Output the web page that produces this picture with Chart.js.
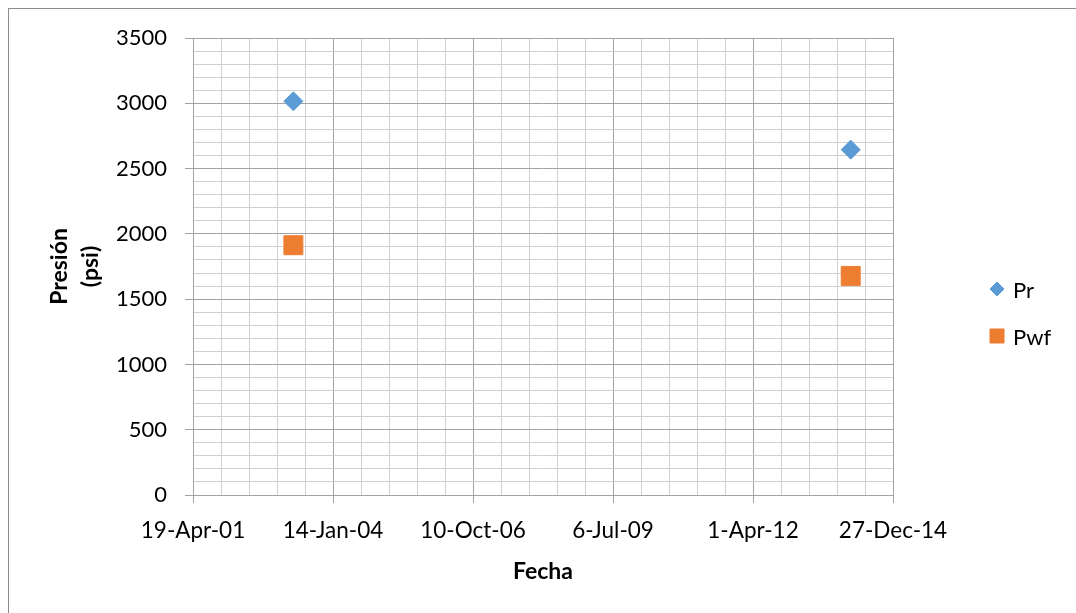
<!DOCTYPE html>
<html>
<head>
<meta charset="utf-8">
<script src="https://cdn.jsdelivr.net/npm/chart.js@4/dist/chart.umd.min.js"></script>
<style>
  html, body { margin: 0; padding: 0; background: #ffffff; }
  #wrap { width: 1076px; height: 613px; }
</style>
</head>
<body>
<div id="wrap"><canvas id="c" width="1076" height="613"></canvas></div>
<script>
// Measurement dates and pressures
const seriesNames = ['Pr', 'Pwf'];
const dates = ['2003-04-06', '2014-02-28'];
const prValues = [3015, 2645];
const pwfValues = [1913, 1678];

// Axis range: date axis in spreadsheet serial days, pressure in psi
const xRangeDates = ['2001-04-19', '2014-12-27'];
const xMajorStep = 1000;
const xMinorStep = 200;
const yMin = 0, yMax = 3500, yMajorStep = 500, yMinorStep = 100;

const MONTHS = ['Jan','Feb','Mar','Apr','May','Jun','Jul','Aug','Sep','Oct','Nov','Dec'];
const EPOCH = Date.UTC(1899, 11, 30);
const DAY = 86400000;

function toSerial(s) {
  const [y, m, d] = s.split('-').map(Number);
  return Math.round((Date.UTC(y, m - 1, d) - EPOCH) / DAY);
}
function fmtSerial(v) {
  const dt = new Date(EPOCH + v * DAY);
  const yy = String(dt.getUTCFullYear() % 100).padStart(2, '0');
  return dt.getUTCDate() + '-' + MONTHS[dt.getUTCMonth()] + '-' + yy;
}

const xMin = toSerial(xRangeDates[0]);
const xMax = toSerial(xRangeDates[1]);

const MAJOR = '#a3a3a3';
const MINOR = '#d0d0d0';
const FONT = 'Lato';
const colors = ['#5b9bd5', '#ed7d31'];
const styles = ['rectRot', 'rect'];

function isMajor(v, step) { return Math.abs(v / step - Math.round(v / step)) < 1e-6; }

// Outer frame and white background
const frame = {
  id: 'frame',
  beforeDraw(chart) {
    const ctx = chart.ctx;
    ctx.save();
    ctx.fillStyle = '#ffffff';
    ctx.fillRect(0, 0, chart.width, chart.height);
    ctx.strokeStyle = '#8c8c8c';
    ctx.lineWidth = 1;
    ctx.strokeRect(8.5, 8.5, chart.width + 20, chart.height + 20);
    ctx.restore();
  }
};

// Legend at the right, using each dataset's own marker style
const sideLegend = {
  id: 'sideLegend',
  afterDraw(chart) {
    const ctx = chart.ctx;
    const rows = [{ y: 289, ty: 290.5, r: 7 }, { y: 336, ty: 338, r: 9.9 }];
    chart.data.datasets.forEach((ds, i) => {
      const row = rows[i];
      ctx.save();
      ctx.fillStyle = ds.backgroundColor;
      ctx.strokeStyle = ds.borderColor;
      ctx.lineWidth = 1;
      Chart.helpers.drawPoint(ctx, { pointStyle: ds.pointStyle, radius: row.r, rotation: 0, borderWidth: 1 }, 997, row.y);
      ctx.fillStyle = '#000000';
      ctx.font = '22px ' + FONT;
      ctx.textAlign = 'left';
      ctx.textBaseline = 'middle';
      ctx.fillText(ds.label, 1013, row.ty);
      ctx.restore();
    });
  }
};

const datasets = [prValues, pwfValues].map((vals, i) => ({
  label: seriesNames[i],
  data: dates.map((d, j) => ({ x: toSerial(d), y: vals[j] })),
  pointStyle: styles[i],
  pointRadius: i === 0 ? 9.5 : 13.4,
  pointHoverRadius: i === 0 ? 9.5 : 13.4,
  borderWidth: 1,
  backgroundColor: colors[i],
  borderColor: colors[i],
  showLine: false
}));

new Chart(document.getElementById('c'), {
  type: 'scatter',
  data: { datasets },
  plugins: [frame, sideLegend],
  options: {
    responsive: false,
    animation: false,
    devicePixelRatio: 1,
    layout: { padding: { left: 0, top: 38, right: 183, bottom: 0 } },
    plugins: {
      legend: { display: false },
      tooltip: { enabled: false }
    },
    scales: {
      x: {
        type: 'linear',
        position: 'bottom',
        min: xMin,
        max: xMax,
        afterFit(s) { s.height = 118; },
        border: { color: MAJOR, width: 1 },
        grid: {
          color: c => isMajor(c.tick.value, xMajorStep) ? MAJOR : MINOR,
          tickColor: c => isMajor(c.tick.value, xMajorStep) ? MAJOR : 'rgba(0,0,0,0)',
          tickLength: 8,
          lineWidth: 1
        },
        ticks: {
          stepSize: xMinorStep,
          autoSkip: false,
          maxRotation: 0,
          padding: 14,
          color: '#000000',
          font: { family: FONT, size: 22.5 },
          callback: v => isMajor(v, xMajorStep) ? fmtSerial(v) : ''
        },
        title: {
          display: true,
          text: 'Fecha',
          color: '#000000',
          font: { family: FONT, size: 23, weight: 'bold' },
          padding: { top: 0, bottom: 28 }
        }
      },
      y: {
        type: 'linear',
        position: 'left',
        min: yMin,
        max: yMax,
        afterFit(s) { s.width = 193; },
        border: { color: MAJOR, width: 1 },
        grid: {
          color: c => isMajor(c.tick.value, yMajorStep) ? MAJOR : MINOR,
          tickColor: c => isMajor(c.tick.value, yMajorStep) ? MAJOR : 'rgba(0,0,0,0)',
          tickLength: 8,
          lineWidth: 1
        },
        ticks: {
          stepSize: yMinorStep,
          autoSkip: false,
          padding: 18,
          color: '#000000',
          font: { family: FONT, size: 22 },
          callback: v => isMajor(v, yMajorStep) ? String(v) : ''
        },
        title: {
          display: true,
          text: ['Presión', '(psi)'],
          color: '#000000',
          font: { family: FONT, size: 23, weight: 'bold', lineHeight: 1.35 },
          padding: { top: 44, bottom: 0 }
        }
      }
    }
  }
});
</script>
</body>
</html>
